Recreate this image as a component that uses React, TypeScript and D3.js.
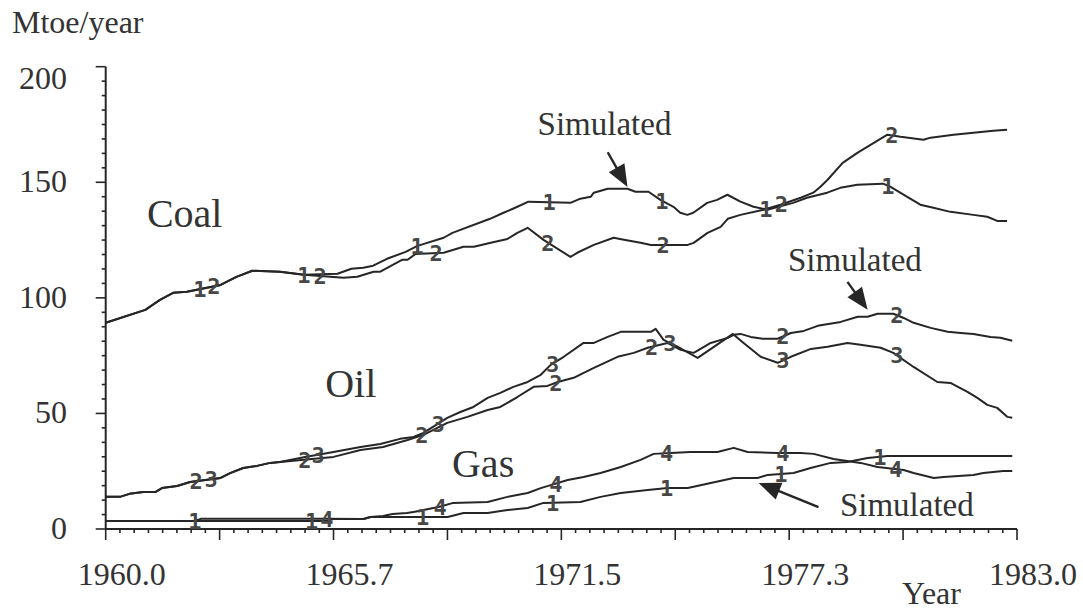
import React from 'react';
import * as d3 from 'd3';

type Pt = [number, number];

// Coal: both runs share the first years
const coalStart: Pt[] = [[1960.0, 89.2], [1961.0, 94.8], [1961.37, 99.1], [1961.7, 102.2], [1962.05, 102.6], [1962.9, 105.6], [1963.3, 109.1], [1963.7, 111.7], [1964.4, 111.3], [1965.0, 110.0]];
const coal1: Pt[] = coalStart.concat([[1965.85, 110.4], [1966.2, 112.6], [1966.5, 113.0], [1966.75, 113.9], [1967.1, 116.9], [1967.57, 119.9], [1967.87, 122.5], [1968.53, 126.0], [1968.75, 128.1], [1969.7, 134.2], [1970.04, 136.8], [1970.39, 139.4], [1970.67, 141.6], [1971.73, 141.1], [1971.98, 142.9], [1972.24, 143.7], [1972.32, 145.5], [1972.67, 147.2], [1973.17, 147.2], [1973.37, 145.9], [1973.7, 145.9], [1974.0, 142.4], [1974.33, 139.4], [1974.5, 136.8], [1974.68, 135.9], [1974.83, 136.8], [1975.18, 141.1], [1975.43, 142.4], [1975.69, 144.6], [1976.02, 141.6], [1976.35, 139.4], [1976.7, 138.1], [1977.35, 141.1], [1977.7, 143.3], [1978.21, 145.5], [1978.54, 147.6], [1978.97, 148.9], [1979.62, 149.4], [1979.8, 148.1], [1980.23, 143.7], [1980.56, 140.3], [1980.89, 139.0], [1981.32, 137.2], [1981.9, 135.9], [1982.25, 135.1], [1982.5, 133.3], [1982.75, 133.3]]);
const coal2: Pt[] = coalStart.concat([[1966.0, 108.7], [1966.35, 109.1], [1966.76, 111.3], [1966.93, 111.3], [1967.49, 116.5], [1967.62, 116.5], [1967.82, 119.0], [1968.53, 119.5], [1969.03, 122.1], [1969.29, 122.1], [1969.72, 123.8], [1970.14, 125.5], [1970.39, 128.1], [1970.65, 130.3], [1971.05, 125.1], [1971.73, 117.7], [1971.9, 119.5], [1972.32, 122.9], [1972.82, 126.0], [1973.08, 125.1], [1973.5, 123.8], [1973.76, 122.9], [1974.69, 122.9], [1974.84, 123.8], [1975.19, 128.1], [1975.52, 130.7], [1975.7, 134.2], [1976.02, 135.9], [1976.6, 138.1], [1977.03, 140.3], [1977.54, 143.3], [1977.86, 145.5], [1978.04, 148.1], [1978.22, 151.1], [1978.6, 158.4], [1978.98, 162.8], [1979.73, 170.6], [1980.06, 169.7], [1980.64, 168.4], [1980.82, 169.3], [1981.4, 170.6], [1981.9, 171.4], [1982.4, 172.3], [1982.75, 172.7]]);

// Oil
const oilStart: Pt[] = [[1960.0, 13.9], [1960.36, 13.9], [1960.6, 15.2], [1960.95, 16.0], [1961.25, 16.0], [1961.42, 17.7], [1961.8, 18.6], [1962.13, 20.3], [1962.9, 22.1], [1963.14, 24.2], [1963.47, 26.4], [1963.82, 27.3], [1964.15, 28.6], [1964.4, 29.0]];
const oil2: Pt[] = oilStart.concat([[1965.0, 30.0], [1965.75, 31.2], [1966.43, 34.2], [1967.0, 35.5], [1967.62, 38.5], [1968.02, 40.7], [1968.62, 45.9], [1969.13, 48.5], [1969.64, 51.5], [1969.96, 52.8], [1970.39, 57.1], [1970.8, 61.5], [1971.15, 61.9], [1971.41, 63.6], [1971.81, 65.4], [1972.32, 69.7], [1972.92, 74.5], [1973.33, 76.2], [1973.68, 78.4], [1974.18, 80.5], [1974.51, 77.5], [1974.84, 76.2], [1975.27, 80.5], [1975.7, 82.7], [1975.85, 84.0], [1976.02, 84.4], [1976.28, 83.1], [1976.58, 82.3], [1976.96, 82.3], [1977.29, 84.8], [1977.62, 85.7], [1977.97, 87.9], [1978.55, 89.6], [1978.98, 91.8], [1979.23, 91.8], [1979.48, 93.1], [1979.88, 93.1], [1980.14, 91.3], [1980.39, 89.2], [1980.82, 87.0], [1981.25, 85.3], [1981.58, 84.8], [1981.9, 84.4], [1982.33, 83.1], [1982.58, 82.7], [1982.88, 81.4]]);
const oil3: Pt[] = oilStart.concat([[1965.0, 31.0], [1965.75, 33.3], [1966.43, 35.5], [1966.93, 36.8], [1967.43, 39.0], [1967.77, 39.8], [1968.02, 41.6], [1968.62, 48.1], [1968.95, 50.6], [1969.28, 52.8], [1969.64, 56.7], [1969.96, 58.9], [1970.29, 61.5], [1970.65, 63.6], [1970.98, 66.7], [1971.23, 71.0], [1971.56, 74.5], [1972.06, 80.5], [1972.32, 80.5], [1972.67, 83.1], [1973.0, 85.3], [1973.76, 85.3], [1973.88, 86.6], [1974.08, 81.8], [1974.44, 78.8], [1974.94, 74.0], [1975.35, 78.8], [1975.83, 84.4], [1976.1, 80.5], [1976.53, 74.5], [1976.96, 71.9], [1977.29, 74.5], [1977.8, 77.9], [1978.22, 78.8], [1978.72, 80.5], [1979.05, 79.7], [1979.56, 78.4], [1979.88, 76.2], [1980.39, 70.1], [1980.99, 63.6], [1981.32, 63.2], [1981.75, 59.3], [1982.0, 56.7], [1982.25, 53.7], [1982.5, 52.4], [1982.76, 48.5], [1982.88, 48.1]]);

// Gas
const gas1: Pt[] = [[1960.0, 3.5], [1965.6, 3.5], [1965.75, 4.3], [1966.51, 4.3], [1966.68, 5.2], [1968.63, 5.2], [1969.03, 6.9], [1969.64, 6.9], [1970.14, 8.2], [1970.65, 9.1], [1971.05, 11.3], [1971.98, 11.7], [1972.49, 13.9], [1973.0, 15.6], [1973.68, 16.9], [1974.18, 17.7], [1974.69, 17.7], [1975.27, 19.9], [1975.85, 22.1], [1976.45, 22.1], [1976.71, 23.4], [1977.36, 24.2], [1977.79, 26.4], [1978.3, 28.6], [1978.72, 29.0], [1979.23, 30.7], [1979.73, 31.6], [1982.88, 31.6]];
const gas4: Pt[] = [[1960.0, 3.5], [1962.25, 3.5], [1962.4, 4.4], [1965.6, 4.4], [1966.51, 4.3], [1966.68, 5.2], [1967.0, 5.6], [1967.24, 6.5], [1967.6, 6.9], [1967.77, 7.4], [1968.4, 9.5], [1968.75, 11.2], [1969.64, 11.7], [1970.14, 13.9], [1970.65, 15.6], [1970.98, 17.7], [1971.23, 19.0], [1971.66, 21.2], [1972.06, 22.5], [1972.49, 24.2], [1973.0, 26.8], [1973.5, 29.9], [1973.83, 32.5], [1974.26, 32.9], [1974.76, 33.3], [1975.44, 33.3], [1975.85, 35.1], [1976.2, 33.3], [1976.96, 32.9], [1977.54, 32.9], [1977.87, 32.5], [1978.37, 30.3], [1979.05, 28.6], [1979.48, 26.8], [1980.14, 25.5], [1980.39, 24.2], [1980.9, 22.1], [1981.15, 22.5], [1981.9, 23.4], [1982.15, 24.2], [1982.65, 25.1], [1982.88, 25.1]];

// series with their number marks (years where the number is drawn)
const series = [
  { id: '1', data: coal1, marks: [1962.38, 1965.0, 1967.86, 1971.19, 1974.04, 1976.66, 1979.74] },
  { id: '2', data: coal2, marks: [1962.73, 1965.41, 1968.34, 1971.16, 1974.07, 1977.05, 1979.84] },
  { id: '2', data: oil2, marks: [1962.28, 1965.03, 1967.98, 1971.36, 1973.78, 1977.09, 1979.97] },
  { id: '3', data: oil3, marks: [1962.66, 1965.36, 1968.39, 1971.28, 1974.24, 1977.09, 1979.97] },
  { id: '1', data: gas1, marks: [1962.25, 1965.2, 1968.0, 1971.28, 1974.16, 1977.04, 1979.54] },
  { id: '4', data: gas4, marks: [1965.58, 1968.44, 1971.36, 1974.16, 1977.09, 1979.94] },
];

const xTickLabels = ['1960.0', '1965.7', '1971.5', '1977.3', '1983.0'];
const yTicks = [0, 50, 100, 150, 200];

const fuelLabels = [
  { text: 'Coal', year: 1961.04, value: 130.8 },
  { text: 'Oil', year: 1965.54, value: 57.1 },
  { text: 'Gas', year: 1968.74, value: 22.5 },
];

// "Simulated" notes: text start, arrow tail and tip
const notes = [
  { year: 1970.9, value: 170.6, tail: [1972.67, 163] as Pt, tip: [1973.17, 148] as Pt },
  { year: 1977.22, value: 111.4, tail: [1978.72, 106.9] as Pt, tip: [1979.23, 94.8] as Pt },
  { year: 1978.53, value: 5.8, tail: [1977.99, 9.5] as Pt, tip: [1976.48, 19.9] as Pt },
];

const W = 1083;
const H = 610;
const serif = '"Liberation Serif", "Times New Roman", serif';
const ink = '#262626';

export default function App() {
  const x = d3.scaleLinear().domain([1960, 1983]).range([105.7, 1017]);
  const y = d3.scaleLinear().domain([0, 200]).range([529, 66.7]);
  const line = d3.line<Pt>().x(d => x(d[0])).y(d => y(d[1]));

  const majorX = d3.range(0, 9).map(i => 1960 + (i * 23) / 8);
  const minorX = d3.range(0, 65).map(i => 1960 + (i * 23) / 64);
  const minorY = d3.range(0, 33).map(i => i * 6.25);

  const valueAt = (data: Pt[], yr: number) => {
    const i = d3.bisector((d: Pt) => d[0]).right(data, yr);
    const a = data[Math.max(0, i - 1)];
    const b = data[Math.min(data.length - 1, i)];
    if (a[0] === b[0]) return a[1];
    return a[1] + ((b[1] - a[1]) * (yr - a[0])) / (b[0] - a[0]);
  };

  const arrowHead = (tail: Pt, tip: Pt) => {
    const x1 = x(tail[0]), y1 = y(tail[1]), x2 = x(tip[0]), y2 = y(tip[1]);
    const len = Math.hypot(x2 - x1, y2 - y1);
    const ux = (x2 - x1) / len, uy = (y2 - y1) / len;
    const hl = 22, hw = 9;
    const bx = x2 - ux * hl, by = y2 - uy * hl;
    return {
      shaft: [x1, y1, bx + ux * 2, by + uy * 2],
      head: `${x2},${y2} ${bx - uy * hw},${by + ux * hw} ${bx + uy * hw},${by - ux * hw}`,
    };
  };

  return (
    <svg width={W} height={H} style={{ position: 'absolute', left: 0, top: 0, background: '#fff' }}>
      {/* y axis */}
      <line x1={x(1960)} x2={x(1960)} y1={y(0)} y2={y(200)} stroke={ink} strokeWidth={2} />
      {minorY.map((v, i) => (
        <line key={'my' + i} x1={x(1960) - (i % 8 === 0 ? 10 : 4)} x2={x(1960)} y1={y(v)} y2={y(v)} stroke={ink} strokeWidth={1.6} />
      ))}
      {yTicks.map(v => (
        <text key={'yl' + v} x={67} y={y(v) + (v === 200 ? 22 : 10)} textAnchor="end" fontFamily={serif} fontSize={32} fill="#333">{v}</text>
      ))}
      <text x={12} y={33} fontFamily={serif} fontSize={32} fill="#333">Mtoe/year</text>

      {/* x axis */}
      <line x1={x(1960)} x2={x(1983)} y1={y(0)} y2={y(0)} stroke={ink} strokeWidth={2} />
      {minorX.map((v, i) => (
        <line key={'mx' + i} x1={x(v)} x2={x(v)} y1={y(0)} y2={y(0) + (i % 8 === 0 ? 11 : 4)} stroke={ink} strokeWidth={1.6} />
      ))}
      {xTickLabels.map((t, i) => (
        <text key={'xl' + t} x={x(majorX[i * 2]) - 28} y={585} fontFamily={serif} fontSize={32} fill="#333">{t}</text>
      ))}
      <text x={902} y={604} fontFamily={serif} fontSize={32} fill="#333">Year</text>

      {/* series */}
      {series.map((s, i) => (
        <path key={'s' + i} d={line(s.data) || ''} fill="none" stroke={ink} strokeWidth={2} strokeLinejoin="round" />
      ))}
      {series.map((s, i) =>
        s.marks.map((m, j) => (
          <text key={'m' + i + '-' + j} x={x(m)} y={y(valueAt(s.data, m)) + 8} textAnchor="middle"
            fontFamily='"DejaVu Sans Mono", monospace' fontWeight="bold" fontSize={22} fill="#474747">{s.id}</text>
        ))
      )}

      {/* fuel names */}
      {fuelLabels.map(f => (
        <text key={f.text} x={x(f.year)} y={y(f.value)} fontFamily={serif} fontSize={40} fill="#333">{f.text}</text>
      ))}

      {/* Simulated notes */}
      {notes.map((n, i) => {
        const a = arrowHead(n.tail, n.tip);
        return (
          <g key={'n' + i}>
            <text x={x(n.year)} y={y(n.value)} fontFamily={serif} fontSize={33} fill="#333">Simulated</text>
            <line x1={a.shaft[0]} y1={a.shaft[1]} x2={a.shaft[2]} y2={a.shaft[3]} stroke={ink} strokeWidth={2.4} />
            <polygon points={a.head} fill={ink} />
          </g>
        );
      })}
    </svg>
  );
}
